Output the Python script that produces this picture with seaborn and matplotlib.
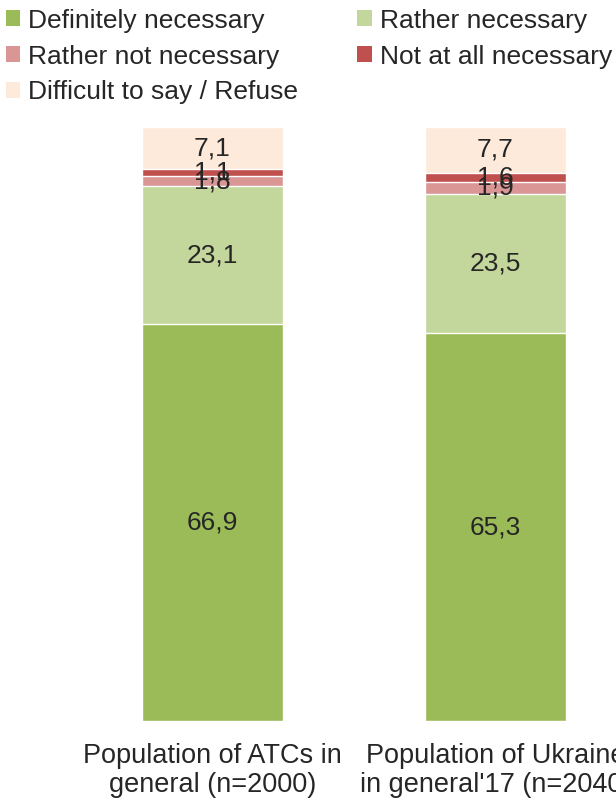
import matplotlib
matplotlib.use("Agg")
import matplotlib.pyplot as plt
import seaborn as sns
import pandas as pd
from matplotlib.patches import Patch

sns.set_theme(style="white")
plt.rcParams["font.family"] = ["Liberation Sans", "DejaVu Sans"]

groups = ["Population of ATCs in\ngeneral (n=2000)",
          "Population of Ukraine\nin general'17 (n=2040)"]
answers = ["Definitely necessary", "Rather necessary", "Rather not necessary",
           "Not at all necessary", "Difficult to say / Refuse"]
definitely = [66.9, 65.3]
rather = [23.1, 23.5]
rather_not = [1.8, 1.9]
not_at_all = [1.1, 1.6]
difficult = [7.1, 7.7]
colors = ["#9BBB59", "#C3D69B", "#D99694", "#C0504D", "#FDEADA"]

series = [definitely, rather, rather_not, not_at_all, difficult]

fig = plt.figure(figsize=(6.16, 8), dpi=100)
ax = fig.add_axes([71 / 616, 79 / 800, 566 / 616, 594 / 800])

# stacked bars: draw cumulative totals from the top layer down
cum = []
running = [0.0, 0.0]
for vals in series:
    bottoms = list(running)
    running = [r + v for r, v in zip(running, vals)]
    cum.append((bottoms, list(running)))

for i in range(len(series) - 1, -1, -1):
    df = pd.DataFrame({"group": groups, "top": cum[i][1]})
    sns.barplot(data=df, x="group", y="top", color=colors[i], width=0.5,
                saturation=1, ax=ax)

for i, vals in enumerate(series):
    for j, v in enumerate(vals):
        mid = cum[i][0][j] + v / 2
        ax.text(j, mid, f"{v:.1f}".replace(".", ","), ha="center", va="center",
                fontsize=19, color="#262626")

ax.set_xlim(-0.5, 1.5)
ax.set_ylim(0, 100)
ax.set_xlabel("")
ax.set_ylabel("")
ax.set_yticks([])
ax.tick_params(axis="x", length=0, labelsize=19.5, pad=16, colors="#262626")
for lab in ax.get_xticklabels():
    lab.set_linespacing(1.13)
for s in ax.spines.values():
    s.set_visible(False)

handles = [Patch(facecolor=c, edgecolor="none") for c in colors]
order = [0, 2, 4, 1, 3]
fig.legend([handles[k] for k in order], [answers[k] for k in order],
           loc="upper left", bbox_to_anchor=(3 / 616, 1 - 6 / 800), ncol=2,
           frameon=False, fontsize=19, handlelength=0.55, handleheight=0.55,
           handletextpad=0.3, columnspacing=2.25, labelspacing=0.45,
           borderpad=0.1, borderaxespad=0, labelcolor="#262626")

fig.savefig("out.png", dpi=100)
